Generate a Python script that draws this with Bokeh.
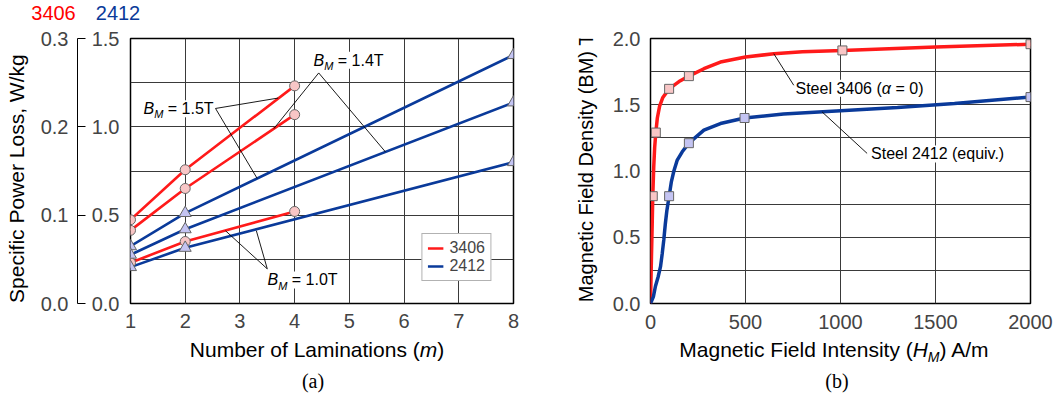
import math
from bokeh.plotting import figure
from bokeh.models import (Range1d, FixedTicker, PrintfTickFormatter,
                          Label, Legend, LegendItem)
from bokeh.layouts import row, column
from bokeh.embed import file_html
from bokeh.resources import INLINE

# ---------------- data: panel (a) ----------------
lam_3406 = [1, 2, 4]
loss_3406_b15 = [0.474, 0.757, 1.232]
loss_3406_b14 = [0.414, 0.651, 1.069]
loss_3406_b10 = [0.231, 0.351, 0.521]
lam_2412 = [1, 2, 8]
loss_2412_b15 = [0.324, 0.512, 1.406]
loss_2412_b14 = [0.276, 0.420, 1.138]
loss_2412_b10 = [0.206, 0.315, 0.800]
lam_ticks = [1, 2, 3, 4, 5, 6, 7, 8]
loss_ticks_2412 = [0.0, 0.5, 1.0, 1.5]
loss_ticks_3406 = [0.0, 0.1, 0.2, 0.3]
loss_grid = [0.0, 0.25, 0.5, 0.75, 1.0, 1.25, 1.5]
legend_labels = ["3406", "2412"]

# ---------------- data: panel (b) ----------------
h_3406_marks = [12, 28, 98, 202, 1010, 2000]
b_3406_marks = [0.81, 1.29, 1.62, 1.716, 1.91, 1.957]
h_2412_marks = [98, 202, 495, 2000]
b_2412_marks = [0.81, 1.21, 1.40, 1.558]
h_3406_curve = [0, 5, 9, 12, 17, 22, 28, 36, 48, 65, 98, 150, 202, 281, 368, 500, 649, 800, 1010, 1500, 2000]
b_3406_curve = [0, 0.35, 0.60, 0.81, 1.03, 1.18, 1.29, 1.40, 1.49, 1.555, 1.62, 1.675, 1.716, 1.772, 1.822, 1.86, 1.885, 1.90, 1.91, 1.935, 1.957]
h_2412_curve = [0, 15, 26, 40, 53, 62, 70, 78, 86, 98, 110, 123, 140, 167, 202, 281, 368, 495, 700, 1000, 1300, 1600, 2000]
b_2412_curve = [0, 0.05, 0.13, 0.20, 0.28, 0.38, 0.48, 0.60, 0.70, 0.81, 0.92, 1.00, 1.08, 1.145, 1.21, 1.308, 1.358, 1.40, 1.43, 1.455, 1.48, 1.51, 1.558]
h_ticks = [0, 500, 1000, 1500, 2000]
b_ticks = [0.0, 0.5, 1.0, 1.5, 2.0]
b_grid = [0.0, 0.25, 0.5, 0.75, 1.0, 1.25, 1.5, 1.75, 2.0]

# ---------------- styles ----------------
FONT = "Liberation Sans"
SERIF = "Liberation Serif"
RED = "#ff1a1a"
BLUE = "#0a3a9a"
PINK = "#f8c6c6"
LAV = "#c4c4f2"
MARK_LINE = "#666666"
GRID = "#3a3a3a"
MID = 0.35    # distance of a text box centre above its baseline, in em
ROT_K = 0.06  # along-text correction for rotated labels (fraction of width)

# Arial / Liberation Sans advance widths (per 1000 em)
AW = {' ': 278, '(': 333, ')': 333, '.': 278, ',': 278, '/': 278, '=': 584,
      'A': 667, 'B': 667, 'D': 722, 'F': 611, 'H': 722, 'I': 278, 'L': 556,
      'M': 833, 'N': 722, 'P': 667, 'S': 667, 'T': 611, 'W': 944,
      'a': 556, 'b': 556, 'c': 500, 'd': 556, 'e': 556, 'f': 278, 'g': 556,
      'h': 556, 'i': 222, 'k': 500, 'l': 222, 'm': 833, 'n': 556, 'o': 556,
      'p': 556, 'q': 556, 'r': 333, 's': 500, 't': 278, 'u': 556, 'v': 500,
      'w': 722, 'y': 500, 'α': 578}


def tw(s, size, serif=False):
    if serif:
        return len(s) * 0.37 * size
    return sum(AW.get(c, 556) for c in s) * size / 1000.0


# page-pixel -> data converters
def conv_a(px, py):
    return 1 + (px - 130) * 7.0 / 383.0, (303 - py) * 1.5 / 266.0


def conv_b(px, py):
    return (px - 650) * 2000.0 / 380.0, (304 - py) * 2.0 / 266.0


def conv_page(px, py):
    return px, -py


def add_pieces(p, conv, x0, yb, pieces, angle=0.0, bg=None, center=False, font=FONT, color="black"):
    """Rich text built from pieces (text, size, style, drop), positioned on a shared baseline."""
    serif = font == SERIF
    total = sum(tw(t, s, serif) for t, s, st, d in pieces)
    pos = -total / 2.0 if center else 0.0
    for text, size, style, drop in pieces:
        lead = len(text) - len(text.lstrip(' '))
        pos += tw(' ' * lead, size, serif)
        body = text.lstrip(' ')
        w = tw(body, size, serif)
        mid = pos + w / 2.0
        perp = drop - MID * size
        if angle == 0:
            px, py = x0 + mid, yb + perp
        else:
            px, py = x0 + perp - 2, yb - mid + ROT_K * w
        x, y = conv(px, py)
        p.add_layout(Label(x=x, y=y, text=body, text_font=font,
                           text_font_size=f"{size}px", text_font_style=style,
                           text_color=color, angle=angle, text_align="center",
                           text_baseline="middle", background_fill_color=bg))
        pos += w


def style_common(p):
    p.outline_line_color = "black"
    p.outline_line_width = 1.5
    p.background_fill_color = "white"
    p.border_fill_color = "white"
    for g in (p.xgrid[0], p.ygrid[0]):
        g.grid_line_color = GRID
        g.grid_line_width = 1


def style_axis(ax, standoff):
    ax.axis_line_color = None
    ax.major_tick_line_color = None
    ax.minor_tick_line_color = None
    ax.major_tick_out = 0
    ax.major_tick_in = 0
    ax.major_label_text_font = FONT
    ax.major_label_text_font_size = "20px"
    ax.major_label_standoff = standoff


def text_fig(x0, x1, y0, y1):
    f = figure(width=x1 - x0, height=y1 - y0, x_range=Range1d(x0, x1), y_range=Range1d(-y1, -y0),
               output_backend="svg", toolbar_location=None, min_border=0,
               x_axis_location=None, y_axis_location=None)
    f.outline_line_color = None
    f.background_fill_color = "white"
    f.border_fill_color = "white"
    for g in f.grid:
        g.visible = False
    return f


TOP, MAIN_BOTTOM, BOTTOM = 26, 336, 400
TITLE_A_R = 36   # page x where the left title strip ends
AX_R = 88        # page x where the outer (3406) axis strip ends

# ================= outer axis for steel 3406 (0 - 0.3 W/kg) =================
axfig = figure(width=AX_R - TITLE_A_R, height=MAIN_BOTTOM - TOP, x_range=Range1d(0, 1),
               y_range=Range1d(0, 0.3), output_backend="svg", toolbar_location=None,
               x_axis_location=None, min_border_left=77 - TITLE_A_R, min_border_right=1,
               min_border_top=37 - TOP, min_border_bottom=MAIN_BOTTOM - 303)
axfig.outline_line_color = None
axfig.background_fill_color = "white"
axfig.border_fill_color = "white"
for g in axfig.grid:
    g.visible = False
oax = axfig.yaxis[0]
oax.ticker = FixedTicker(ticks=loss_ticks_3406)
oax.formatter = PrintfTickFormatter(format="%.1f")
oax.axis_line_color = "black"
oax.axis_line_width = 1
oax.major_tick_line_color = "black"
oax.major_tick_in = 8
oax.major_tick_out = 0
oax.minor_tick_line_color = None
oax.major_label_text_font = FONT
oax.major_label_text_font_size = "20px"
oax.major_label_standoff = 9

# ================= panel (a) =================
p1 = figure(width=538 - AX_R, height=MAIN_BOTTOM - TOP, x_range=Range1d(1, 8), y_range=Range1d(0, 1.5),
            output_backend="svg", toolbar_location=None,
            min_border_left=130 - AX_R, min_border_right=25, min_border_top=37 - TOP,
            min_border_bottom=MAIN_BOTTOM - 303)
style_common(p1)
p1.xgrid.ticker = FixedTicker(ticks=lam_ticks)
p1.ygrid.ticker = FixedTicker(ticks=loss_grid)

xa = p1.xaxis[0]
xa.ticker = FixedTicker(ticks=lam_ticks)
style_axis(xa, 10)

ya = p1.yaxis[0]
ya.ticker = FixedTicker(ticks=loss_ticks_2412)
ya.formatter = PrintfTickFormatter(format="%.1f")
style_axis(ya, 11)

series_a = [
    (lam_3406, loss_3406_b15, RED, "circle", PINK),
    (lam_3406, loss_3406_b14, RED, "circle", PINK),
    (lam_3406, loss_3406_b10, RED, "circle", PINK),
    (lam_2412, loss_2412_b15, BLUE, "triangle", LAV),
    (lam_2412, loss_2412_b14, BLUE, "triangle", LAV),
    (lam_2412, loss_2412_b10, BLUE, "triangle", LAV),
]
line_refs = []
for xs, ys, col, mk, fill in series_a:
    line_refs.append(p1.line(xs, ys, line_color=col, line_width=2.6))

# leader lines (annotation anchors, data units)
lead_a_x0 = [2.554, 2.554, 4.44, 4.44, 3.50, 3.50]
lead_a_y0 = [1.104, 1.104, 1.305, 1.305, 0.196, 0.196]
lead_a_x1 = [3.70, 3.315, 3.62, 5.66, 2.736, 3.30]
lead_a_y1 = [1.163, 0.708, 0.990, 0.858, 0.412, 0.412]
p1.segment(x0=lead_a_x0, y0=lead_a_y0, x1=lead_a_x1, y1=lead_a_y1,
           line_color="black", line_width=0.9)

for xs, ys, col, mk, fill in series_a:
    sz = 10 if mk == "circle" else 12
    p1.scatter(xs, ys, marker=mk, size=sz, fill_color=fill, line_color=MARK_LINE, line_width=1)

legend = Legend(items=[LegendItem(label=legend_labels[0], renderers=[line_refs[0]]),
                       LegendItem(label=legend_labels[1], renderers=[line_refs[3]])],
                location="bottom_right")
legend.margin = 22
legend.padding = 5
legend.spacing = 0
legend.glyph_width = 16
legend.glyph_height = 18
legend.label_height = 18
legend.label_standoff = 6
legend.label_text_font = FONT
legend.label_text_font_size = "16px"
legend.border_line_color = "#666666"
legend.border_line_width = 1
legend.background_fill_color = "white"
legend.background_fill_alpha = 1.0
p1.add_layout(legend)

for xl, yb, txt in [(143, 113, " = 1.5T"), (313, 64.5, " = 1.4T"), (267, 285, " = 1.0T")]:
    add_pieces(p1, conv_a, xl, yb, [("B", 16, "italic", 0), ("M", 11, "italic", 4), (txt, 16, "normal", 0)], bg="white")

# ================= panel (b) =================
p2 = figure(width=454, height=MAIN_BOTTOM - TOP, x_range=Range1d(0, 2000), y_range=Range1d(0, 2.0),
            output_backend="svg", toolbar_location=None,
            min_border_left=46, min_border_right=28, min_border_top=38 - TOP,
            min_border_bottom=MAIN_BOTTOM - 304)
style_common(p2)
p2.xgrid.ticker = FixedTicker(ticks=h_ticks)
p2.ygrid.ticker = FixedTicker(ticks=b_grid)

xb = p2.xaxis[0]
xb.ticker = FixedTicker(ticks=h_ticks)
style_axis(xb, 11)

yb_ax = p2.yaxis[0]
yb_ax.ticker = FixedTicker(ticks=b_ticks)
yb_ax.formatter = PrintfTickFormatter(format="%.1f")
style_axis(yb_ax, 10)

p2.line(h_3406_curve, b_3406_curve, line_color=RED, line_width=3.5)
p2.line(h_2412_curve, b_2412_curve, line_color=BLUE, line_width=3.5)

lead_b_x0 = [754, 1140]
lead_b_y0 = [1.647, 1.133]
lead_b_x1 = [649, 903]
lead_b_y1 = [1.885, 1.446]
p2.segment(x0=lead_b_x0, y0=lead_b_y0, x1=lead_b_x1, y1=lead_b_y1,
           line_color="black", line_width=0.9)

p2.scatter(h_3406_marks, b_3406_marks, marker="square", size=9, fill_color=PINK,
           line_color=MARK_LINE, line_width=1)
p2.scatter(h_2412_marks, b_2412_marks, marker="square", size=9, fill_color=LAV,
           line_color=MARK_LINE, line_width=1)

add_pieces(p2, conv_b, 795, 93.5, [("Steel 3406 (", 16, "normal", 0), ("α", 16, "italic", 0), (" = 0)", 16, "normal", 0)], bg="white")
add_pieces(p2, conv_b, 870, 159.5, [("Steel 2412 (equiv.)", 16, "normal", 0)], bg="white")

# ================= text strips outside the frames =================
top_strip = text_fig(0, 1058, 0, TOP)
add_pieces(top_strip, conv_page, 53, 19.5, [("3406", 20, "normal", 0)], center=True, color="#ff0000")
add_pieces(top_strip, conv_page, 117.5, 19.5, [("2412", 20, "normal", 0)], center=True, color="#0a3a9a")

ytitle_a = text_fig(0, TITLE_A_R, TOP, MAIN_BOTTOM)
add_pieces(ytitle_a, conv_page, 25.5, 175, [("Specific Power Loss, W/kg", 21, "normal", 0)],
           angle=math.pi / 2, center=True)

ytitle_b = text_fig(538, 604, TOP, MAIN_BOTTOM)
add_pieces(ytitle_b, conv_page, 594, 161, [("Magnetic Field Density (BM) T", 20, "normal", 0)],
           angle=math.pi / 2, center=True)

bottom_strip = text_fig(0, 1058, MAIN_BOTTOM, BOTTOM)
add_pieces(bottom_strip, conv_page, 316.5, 356, [("Number of Laminations (", 21, "normal", 0), ("m", 21, "italic", 0),
                                                 (")", 21, "normal", 0)], center=True)
add_pieces(bottom_strip, conv_page, 312.5, 387, [("(a)", 20, "normal", 0)], center=True, font=SERIF)
add_pieces(bottom_strip, conv_page, 834, 356, [("Magnetic Field Intensity (", 21, "normal", 0), ("H", 21, "italic", 0),
                                               ("M", 14, "italic", 5), (") A/m", 21, "normal", 0)], center=True)
add_pieces(bottom_strip, conv_page, 836.5, 387, [("(b)", 20, "normal", 0)], center=True, font=SERIF)

layout = column(top_strip, row(ytitle_a, axfig, p1, ytitle_b, p2), bottom_strip)
open("out.html", "w").write(file_html(layout, INLINE))
